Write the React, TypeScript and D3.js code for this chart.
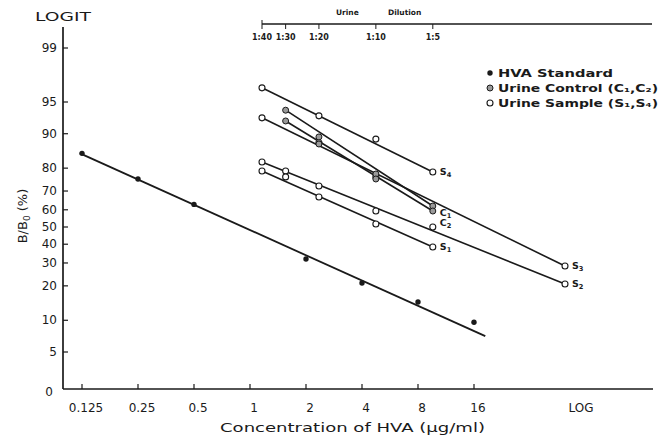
import React from 'react';
import * as d3 from 'd3';

// HVA standard curve (concentration in ug/ml, B/B0 in %)
const stdConc = [0.125, 0.25, 0.5, 2, 4, 8, 16];
const stdBB0 = [85, 75.6, 63, 32, 21.1, 14.6, 9.6];
// fitted line of the standard
const stdFitConc = [0.122, 18.4];
const stdFitBB0 = [85, 7.1];

// urine dilutions (1:n), last one is undiluted
const dilutions = [40, 30, 20, 10, 5, 1];
const dilutionTicks = [40, 30, 20, 10, 5];

const urineNames = ['S4', 'S3', 'C1', 'C2', 'S2', 'S1'];
const urineKinds = ['sample', 'sample', 'control', 'control', 'sample', 'sample'];
const urineS4 = [96.7, null, 93.2, 88.8, 78.5, null];
const urineS3 = [92.9, null, 87.9, 76.5, null, 28.5];
const urineC1 = [null, 94.0, 89.3, 77.7, 62.1, null];
const urineC2 = [null, 92.4, 87.6, 75.6, 59.3, null];
const urineS2 = [82.2, 78.9, 72.4, 59.3, 50, 20.7];
const urineS1 = [78.9, 76.5, 67.0, 51.8, 38.4, null];
const urineValues = [urineS4, urineS3, urineC1, urineC2, urineS2, urineS1];

const xTicks = [0.125, 0.25, 0.5, 1, 2, 4, 8, 16];
const yTicks = [99, 95, 90, 80, 70, 60, 50, 40, 30, 20, 10, 5];

const legendKinds = ['std', 'control', 'sample'];
const legendLabels = ['HVA Standard', 'Urine Control (C₁,C₂)', 'Urine Sample (S₁,S₄)'];
const legendWidths = [115, 160, 160];

const FONT = '"DejaVu Sans", sans-serif';
const INK = '#1a1a1a';

const logit = (p: number) => Math.log(p / (100 - p));

const xScale = d3.scaleLog().base(2).domain([0.125, 16]).range([82, 474]);
const dilScale = d3.scaleLog().domain([1 / 40, 1]).range([262, 565]);
const yScale = d3.scaleLinear()
  .domain([logit(5), logit(95), logit(99)])
  .range([352, 102, 48]);
const y = (p: number) => yScale(logit(p));

const axisX0 = 63;
const axisY0 = 389;

function Sub({ base, sub, x, y: yy, size = 9.5 }: any) {
  return (
    <text x={x} y={yy} fontFamily={FONT} fontSize={size} fontWeight="bold" fill={INK} dy="0.35em">
      {base}
      <tspan fontSize={size * 0.7} dy="2">{sub}</tspan>
    </text>
  );
}

function Marker({ kind, cx, cy }: any) {
  if (kind === 'std') return <circle cx={cx} cy={cy} r={2.7} fill={INK} />;
  if (kind === 'control')
    return <circle cx={cx} cy={cy} r={3} fill="#9a9a9a" stroke={INK} strokeWidth={1} />;
  return <circle cx={cx} cy={cy} r={3} fill="white" stroke={INK} strokeWidth={1.1} />;
}

export default function App() {
  const line = d3.line<[number, number]>();
  const urine = urineValues.map((vals, i) => {
    const pts = vals
      .map((v, j) => (v == null ? null : ([dilScale(1 / dilutions[j]), y(v)] as [number, number])))
      .filter((p) => p != null) as [number, number][];
    return { name: urineNames[i], kind: urineKinds[i], pts };
  });

  return (
    <svg width={659} height={443} style={{ position: 'absolute', left: 0, top: 0, background: 'white' }}>
      {/* axes */}
      <line x1={axisX0} x2={axisX0} y1={27} y2={axisY0} stroke={INK} strokeWidth={1.7} />
      <line x1={axisX0} x2={653} y1={axisY0} y2={axisY0} stroke={INK} strokeWidth={1.7} />
      <text x={35} y={16} fontFamily={FONT} fontSize={13} fill={INK} textLength={56} lengthAdjust="spacingAndGlyphs" dy="0.35em">LOGIT</text>
      {yTicks.map((t) => (
        <g key={t}>
          <line x1={axisX0} x2={axisX0 + 5} y1={y(t)} y2={y(t)} stroke={INK} strokeWidth={1.2} />
          <text x={57} y={y(t)} textAnchor="end" dy="0.35em" fontFamily={FONT} fontSize={12} fill={INK}>{t}</text>
        </g>
      ))}
      <text x={49} y={392} textAnchor="middle" dy="0.35em" fontFamily={FONT} fontSize={12} fill={INK}>0</text>
      <text transform="translate(22,216) rotate(-90)" textAnchor="middle" dy="0.35em" fontFamily={FONT} fontSize={13} fill={INK}>
        B/B<tspan fontSize={9} dy="3">0</tspan><tspan dy="-3"> (%)</tspan>
      </text>

      {xTicks.map((t) => (
        <g key={t}>
          <line x1={xScale(t)} x2={xScale(t)} y1={axisY0} y2={axisY0 - 5} stroke={INK} strokeWidth={1.2} />
          <text x={xScale(t) + 4} y={408} textAnchor="middle" dy="0.35em" fontFamily={FONT} fontSize={12} fill={INK}>{t}</text>
        </g>
      ))}
      <text x={581} y={408} textAnchor="middle" dy="0.35em" fontFamily={FONT} fontSize={12} fill={INK}>LOG</text>
      <text x={220} y={428} dy="0.35em" fontFamily={FONT} fontSize={12} fill={INK} textLength={265} lengthAdjust="spacingAndGlyphs">
        Concentration of HVA  (µg/ml)
      </text>

      {/* urine dilution axis */}
      <line x1={dilScale(1 / 40)} x2={652} y1={24} y2={24} stroke={INK} strokeWidth={1.3} />
      <line x1={dilScale(1 / 40)} x2={dilScale(1 / 40)} y1={20} y2={24} stroke={INK} strokeWidth={1} />
      {dilutionTicks.map((d) => (
        <g key={d}>
          <line x1={dilScale(1 / d)} x2={dilScale(1 / d)} y1={24} y2={29} stroke={INK} strokeWidth={1} />
          <text x={dilScale(1 / d)} y={37} textAnchor="middle" dy="0.35em" fontFamily={FONT} fontSize={8} fontWeight="bold" fill={INK}>{`1:${d}`}</text>
        </g>
      ))}
      <text x={336} y={12} dy="0.35em" fontFamily={FONT} fontSize={7.5} fontWeight="bold" fill={INK}>Urine</text>
      <text x={388} y={12} dy="0.35em" fontFamily={FONT} fontSize={7.5} fontWeight="bold" fill={INK}>Dilution</text>

      {/* standard curve */}
      <path
        d={line(stdFitConc.map((c, i) => [xScale(c), y(stdFitBB0[i])]))!}
        stroke={INK} strokeWidth={1.8} fill="none"
      />
      {stdConc.map((c, i) => (
        <Marker key={c} kind="std" cx={xScale(c)} cy={y(stdBB0[i])} />
      ))}

      {/* urine lines */}
      {urine.map((s) => (
        <path key={s.name} d={line([s.pts[0], s.pts[s.pts.length - 1]])!} stroke={INK} strokeWidth={1.6} fill="none" />
      ))}
      {urine.map((s) =>
        s.pts.map((p, j) => <Marker key={s.name + j} kind={s.kind} cx={p[0]} cy={p[1]} />)
      )}
      {urine.map((s) => {
        const last = s.pts[s.pts.length - 1];
        const off = s.name === 'C1' ? 7 : s.name === 'C2' ? 12 : 0;
        return <Sub key={s.name} base={s.name[0]} sub={s.name.slice(1)} x={last[0] + 7} y={last[1] + off} />;
      })}

      {/* legend */}
      {legendLabels.map((label, i) => (
        <g key={label}>
          <Marker kind={legendKinds[i]} cx={490} cy={73 + i * 15} />
          <text x={498} y={73 + i * 15} dy="0.35em" fontFamily={FONT} fontSize={10.5} fontWeight="bold" fill={INK}
            textLength={legendWidths[i]} lengthAdjust="spacingAndGlyphs">{label}</text>
        </g>
      ))}
    </svg>
  );
}
